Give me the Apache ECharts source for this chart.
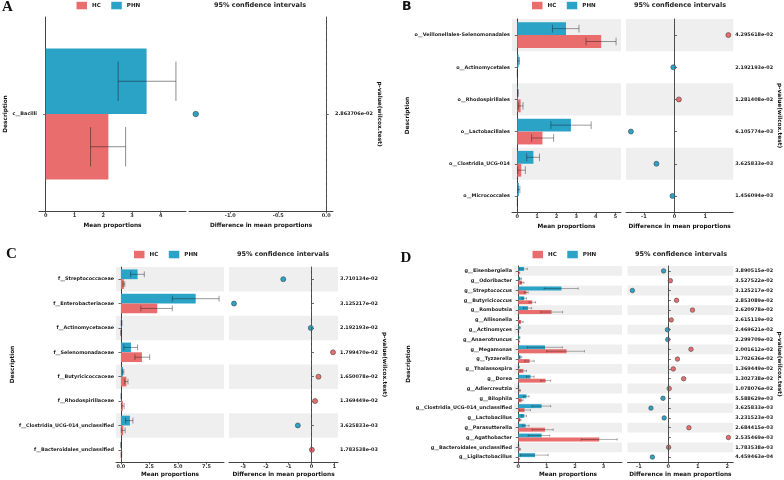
<!DOCTYPE html>
<html><head><meta charset="utf-8">
<script src="https://cdn.jsdelivr.net/npm/echarts@6/dist/echarts.min.js"></script>
<style>html,body{margin:0;padding:0;background:#fff}#c{width:784px;height:480px}</style>
</head><body><div id="c"></div>
<script>
// ---------------- DATA ----------------
// Panel A (class)
const aNames = ['c__Bacilli'];
const aPvals = ['2.863706e-02'];
const aHcMean = [2.18], aHcLow = [1.56], aHcHigh = [2.78];
const aPhnMean = [3.51], aPhnLow = [2.52], aPhnHigh = [4.53];
const aDiff = [-1.36];
const aTicksL = [0, 1, 2, 3, 4];
const aTicksR = [-1.0, -0.5, 0.0];

// Panel B (order)
const bNames = ['o__Veillonellales-Selenomonadales', 'o__Actinomycetales', 'o__Rhodospirillales', 'o__Lactobacillales', 'o__Clostridia_UCG-014', 'o__Micrococcales'];
const bPvals = ['4.295618e-02', '2.192193e-02', '1.281408e-02', '6.105774e-03', '3.625833e-03', '1.456094e-03'];
const bHcMean = [4.27, 0.005, 0.17, 1.28, 0.20, 0.005];
const bHcLow = [3.50, 0.0, 0.05, 0.73, 0.02, 0.0];
const bHcHigh = [5.03, 0.01, 0.29, 1.85, 0.41, 0.01];
const bPhnMean = [2.48, 0.07, 0.03, 2.73, 0.82, 0.08];
const bPhnLow = [1.79, 0.03, 0.01, 1.71, 0.48, 0.03];
const bPhnHigh = [3.14, 0.11, 0.05, 3.76, 1.13, 0.13];
const bDiff = [1.75, -0.04, 0.14, -1.42, -0.59, -0.07];
const bTicksL = [0, 1, 2, 3, 4, 5];
const bTicksR = [-1, 0, 1];

// Panel C (family)
const cNames = ['f__Streptococcaceae', 'f__Enterobacteriaceae', 'f__Actinomycetaceae', 'f__Selenomonadaceae', 'f__Butyricicoccaceae', 'f__Rhodospirillaceae', 'f__Clostridia_UCG-014_unclassified', 'f__Bacteroidales_unclassified'];
const cPvals = ['3.710134e-02', '3.125217e-02', '2.192193e-02', '1.799470e-02', '1.650078e-02', '1.369449e-02', '3.625833e-03', '1.783538e-03'];
const cHcMean = [0.26, 3.18, 0.01, 1.84, 0.48, 0.17, 0.20, 0.04];
const cHcLow = [0.18, 1.75, 0.0, 1.23, 0.33, 0.06, 0.03, 0.01];
const cHcHigh = [0.34, 4.50, 0.02, 2.52, 0.62, 0.28, 0.37, 0.07];
const cPhnMean = [1.46, 6.55, 0.06, 0.88, 0.18, 0.03, 0.79, 0.01];
const cPhnLow = [0.85, 4.50, 0.03, 0.26, 0.12, 0.01, 0.41, 0.0];
const cPhnHigh = [2.05, 8.60, 0.09, 1.46, 0.25, 0.05, 1.05, 0.02];
const cDiff = [-1.24, -3.41, -0.03, 0.95, 0.31, 0.16, -0.60, 0.02];
const cTicksL = [0, 2.5, 5, 7.5];
const cTicksR = [-3, -2, -1, 0, 1];

// Panel D (genus)
const dNames = ['g__Eisenbergiella', 'g__Odoribacter', 'g__Streptococcus', 'g__Butyricicoccus', 'g__Romboutsia', 'g__Allisonella', 'g__Actinomyces', 'g__Anaerotruncus', 'g__Megamonas', 'g__Tyzzerella', 'g__Thalassospira', 'g__Dorea', 'g__Adlercreutzia', 'g__Bilophila', 'g__Clostridia_UCG-014_unclassified', 'g__Lactobacillus', 'g__Parasutterella', 'g__Agathobacter', 'g__Bacteroidales_unclassified', 'g__Ligilactobacillus'];
const dPvals = ['3.890515e-02', '3.527522e-02', '3.125217e-02', '2.853089e-02', '2.620978e-02', '2.615119e-02', '2.469621e-02', '2.299709e-02', '2.001612e-02', '1.702636e-02', '1.369449e-02', '1.302738e-02', '1.078076e-02', '5.588629e-03', '3.625833e-03', '3.231523e-03', '2.684415e-03', '2.535469e-03', '1.783538e-03', '4.459463e-04'];
const dHcMean = [0.03, 0.14, 0.29, 0.49, 1.17, 0.10, 0.01, 0.03, 1.70, 0.40, 0.18, 0.96, 0.05, 0.12, 0.22, 0.07, 0.94, 2.85, 0.05, 0.03];
const dHcLow = [0.01, 0.08, 0.21, 0.38, 0.79, 0.04, 0.0, 0.01, 1.00, 0.23, 0.06, 0.79, 0.01, 0.05, 0.04, 0.04, 0.49, 2.22, 0.02, 0.01];
const dHcHigh = [0.05, 0.20, 0.35, 0.61, 1.56, 0.17, 0.02, 0.05, 2.33, 0.56, 0.29, 1.14, 0.08, 0.17, 0.43, 0.10, 1.23, 3.48, 0.08, 0.05];
const dPhnMean = [0.20, 0.07, 1.52, 0.21, 0.34, 0.01, 0.05, 0.04, 0.94, 0.08, 0.02, 0.43, 0.01, 0.29, 0.82, 0.21, 0.26, 0.82, 0.01, 0.59];
const dPhnLow = [0.04, 0.04, 0.91, 0.13, 0.18, 0.0, 0.02, 0.02, 0.32, 0.04, 0.0, 0.29, 0.0, 0.18, 0.49, 0.11, 0.14, 0.35, 0.0, 0.08];
const dPhnHigh = [0.32, 0.11, 2.11, 0.29, 0.47, 0.02, 0.08, 0.06, 1.55, 0.12, 0.04, 0.56, 0.02, 0.38, 1.14, 0.29, 0.38, 1.11, 0.02, 1.05];
const dDiff = [-0.16, 0.07, -1.22, 0.28, 0.82, 0.10, -0.03, -0.02, 0.77, 0.31, 0.17, 0.52, 0.03, -0.18, -0.59, -0.14, 0.70, 2.04, 0.01, -0.54];
const dTicksL = [0, 1, 2, 3];
const dTicksR = [-1, 0, 1, 2];

const groups = ['HC', 'PHN'];
const ciTitle = '95% confidence intervals';

// ---------------- STYLE ----------------
const FONT = 'DejaVu Sans';
const HC_COLOR = '#E96D6D';
const PHN_COLOR = '#2AA3C7';
const AX = '#444';
const BAND = '#EFEFEF';

const grids = [], xAxes = [], yAxes = [], series = [], titles = [], legends = [];

function fmt(dec) { return v => dec ? Number(v).toFixed(dec) : String(Math.round(v * 100) / 100); }

function addPanel(p) {
  const gL = grids.length, gR = gL + 1;
  const h = p.bottom - p.top;
  grids.push({ left: p.L[0], top: p.top, width: p.L[1] - p.L[0], height: h });
  grids.push({ left: p.R[0], top: p.top, width: p.R[1] - p.R[0], height: h });
  const xL = xAxes.length, xR = xL + 1, yL = yAxes.length, yR = yL + 1;
  const axisLine = { show: true, lineStyle: { color: AX, width: 1 } };
  const tick = { show: true, length: 2.5, lineStyle: { color: AX, width: 0.8 } };
  const tickLbl = { fontFamily: FONT, fontWeight: 'bold', fontSize: 5, color: '#333', margin: 2.5 };
  const nameStyle = { fontFamily: FONT, fontWeight: 'bold', fontSize: 5.8, color: '#111' };
  xAxes.push({ type: 'value', gridIndex: gL, min: p.xL[0], max: p.xL[1],
    axisLine, splitLine: { show: false },
    axisTick: Object.assign({ customValues: p.ticksL }, tick),
    axisLabel: Object.assign({ customValues: p.ticksL, formatter: fmt(p.decL) }, tickLbl),
    name: 'Mean proportions', nameLocation: 'middle', nameGap: p.xNameGap, nameTextStyle: nameStyle });
  xAxes.push({ type: 'value', gridIndex: gR, min: p.xR[0], max: p.xR[1],
    axisLine, splitLine: { show: false },
    axisTick: Object.assign({ customValues: p.ticksR }, tick),
    axisLabel: Object.assign({ customValues: p.ticksR, formatter: fmt(p.decR) }, tickLbl),
    name: 'Difference in mean proportions', nameLocation: 'middle', nameGap: p.xNameGap, nameTextStyle: nameStyle });
  yAxes.push({ type: 'category', gridIndex: gL, inverse: true, data: p.names,
    axisLine, axisTick: Object.assign({ alignWithLabel: true }, tick),
    axisLabel: Object.assign({}, tickLbl, { fontSize: 4.9, color: '#1a1a1a', margin: 2 }),
    name: 'Description', nameLocation: 'middle', nameRotate: 90, nameGap: p.yNameGapL, nameTextStyle: nameStyle });
  yAxes.push({ type: 'category', gridIndex: gR, inverse: true, position: 'right', data: p.pvals,
    axisLine, axisTick: Object.assign({ alignWithLabel: true }, tick),
    axisLabel: Object.assign({}, tickLbl, { fontSize: 4.9, color: '#1a1a1a', margin: 2 }),
    name: 'p-value(wilcox.test)', nameLocation: 'middle', nameRotate: -90, nameGap: p.yNameGapR, nameTextStyle: nameStyle });

  const n = p.names.length;
  const bandData = [];
  for (let i = 0; i < n; i++) if ((n - i) % 2 === 0) bandData.push([0, i]);
  const bandRender = (params, api) => {
    const c = api.coord([0, api.value(1)]);
    const bh = api.size([0, 1])[1];
    const cs = params.coordSys;
    return { type: 'rect', shape: { x: cs.x, y: c[1] - bh / 2, width: cs.width, height: bh }, style: { fill: BAND } };
  };
  [[xL, yL], [xR, yR]].forEach(([xi, yi]) => {
    series.push({ type: 'custom', xAxisIndex: xi, yAxisIndex: yi, silent: true, z: 0,
      renderItem: bandRender, encode: { x: 0, y: 1 }, data: bandData });
  });

  // bars
  series.push({ type: 'bar', name: 'PHN', xAxisIndex: xL, yAxisIndex: yL, data: p.phnMean,
    barGap: '0%', barCategoryGap: p.gap, itemStyle: { color: PHN_COLOR }, z: 2, silent: true });
  series.push({ type: 'bar', name: 'HC', xAxisIndex: xL, yAxisIndex: yL, data: p.hcMean,
    barGap: '0%', barCategoryGap: p.gap, itemStyle: { color: HC_COLOR }, z: 2, silent: true });

  // error bars
  const gapFrac = parseFloat(p.gap) / 100;
  const errData = [];
  for (let i = 0; i < n; i++) {
    errData.push([p.phnLow[i], p.phnHigh[i], i, -1]);
    errData.push([p.hcLow[i], p.hcHigh[i], i, 1]);
  }
  series.push({ type: 'custom', xAxisIndex: xL, yAxisIndex: yL, silent: true, z: 3,
    encode: { x: [0, 1], y: 2 }, data: errData,
    renderItem: (params, api) => {
      const lo = api.coord([api.value(0), api.value(2)]);
      const hi = api.coord([api.value(1), api.value(2)]);
      const bh = api.size([0, 1])[1];
      const barH = bh * (1 - gapFrac) / 2;
      const yc = lo[1] + api.value(3) * barH / 2;
      const cap = barH * 0.3;
      const st = { stroke: 'rgba(30,30,30,0.5)', lineWidth: p.errW };
      return { type: 'group', children: [
        { type: 'line', shape: { x1: lo[0], y1: yc, x2: hi[0], y2: yc }, style: st },
        { type: 'line', shape: { x1: lo[0], y1: yc - cap, x2: lo[0], y2: yc + cap }, style: st },
        { type: 'line', shape: { x1: hi[0], y1: yc - cap, x2: hi[0], y2: yc + cap }, style: st }
      ] };
    } });

  // difference points
  series.push({ type: 'scatter', name: 'diff', xAxisIndex: xR, yAxisIndex: yR, z: 4, silent: true,
    symbolSize: p.dot,
    data: p.diff.map((d, i) => ({ value: [d, i], itemStyle: { color: d > 0 ? HC_COLOR : PHN_COLOR, opacity: 1, borderColor: '#444', borderWidth: 0.6 } })),
    markLine: { silent: true, symbol: 'none', label: { show: false },
      lineStyle: { type: p.dash, color: '#555', width: 1 }, data: [{ xAxis: 0 }] } });

  titles.push({ text: ciTitle, left: p.ciX, top: p.ciY, textAlign: 'center', padding: 0,
    textStyle: { fontFamily: FONT, fontWeight: 'bold', fontSize: 6.5, color: '#222' } });
  titles.push({ text: p.letter, left: p.letX, top: p.letY, padding: 0,
    textStyle: { fontFamily: p.letFont, fontWeight: 'bold', fontSize: p.letSize, color: '#111' } });
  legends.push({ left: p.legX, top: p.legY, padding: 0, data: groups, icon: 'rect', itemWidth: 10.5, itemHeight: 7.5,
    itemGap: 10.5, selectedMode: false,
    textStyle: { fontFamily: FONT, fontWeight: 'bold', fontSize: 5.6, color: '#222' } });
}

addPanel({ letter: 'A', letX: 2, letY: 0, letFont: 'Liberation Serif', letSize: 15,
  names: aNames, pvals: aPvals, hcMean: aHcMean, hcLow: aHcLow, hcHigh: aHcHigh,
  phnMean: aPhnMean, phnLow: aPhnLow, phnHigh: aPhnHigh, diff: aDiff,
  ticksL: aTicksL, ticksR: aTicksR, decL: 0, decR: 1,
  L: [39, 186], R: [189, 333], top: 17, bottom: 211, xL: [-0.233, 4.88], xR: [-1.43, 0.07],
  gap: '32.5%', errW: 1, dot: 5.5, dash: 'dashed',
  xNameGap: 11, yNameGapL: 29, yNameGapR: 39, ciX: 260, ciY: 1.5, legX: 76.5, legY: 1.8 });

addPanel({ letter: 'B', letX: 402, letY: 0, letFont: 'DejaVu Sans', letSize: 12.5,
  names: bNames, pvals: bPvals, hcMean: bHcMean, hcLow: bHcLow, hcHigh: bHcHigh,
  phnMean: bPhnMean, phnLow: bPhnLow, phnHigh: bPhnHigh, diff: bDiff,
  ticksL: bTicksL, ticksR: bTicksR, decL: 0, decR: 0,
  L: [512, 621], R: [626, 734], top: 19, bottom: 212, xL: [-0.27, 5.28], xR: [-1.58, 1.91],
  gap: '20%', errW: 0.9, dot: 5, dash: 'dotted',
  xNameGap: 11, yNameGapL: 100, yNameGapR: 41, ciX: 680, ciY: 1.5, legX: 532, legY: 1.8 });

addPanel({ letter: 'C', letX: 6, letY: 247, letFont: 'Liberation Serif', letSize: 15,
  names: cNames, pvals: cPvals, hcMean: cHcMean, hcLow: cHcLow, hcHigh: cHcHigh,
  phnMean: cPhnMean, phnLow: cPhnLow, phnHigh: cPhnHigh, diff: cDiff,
  ticksL: cTicksL, ticksR: cTicksR, decL: 1, decR: 0,
  L: [116, 224], R: [229, 338], top: 267, bottom: 462, xL: [-0.43, 9.03], xR: [-3.63, 1.17],
  gap: '20%', errW: 0.9, dot: 5, dash: 'dashed',
  xNameGap: 9, yNameGapL: 101, yNameGapR: 40, ciX: 283, ciY: 250.5, legX: 134, legY: 250.8 });

addPanel({ letter: 'D', letX: 400.5, letY: 251, letFont: 'Liberation Serif', letSize: 15,
  names: dNames, pvals: dPvals, hcMean: dHcMean, hcLow: dHcLow, hcHigh: dHcHigh,
  phnMean: dPhnMean, phnLow: dPhnLow, phnHigh: dPhnHigh, diff: dDiff,
  ticksL: dTicksL, ticksR: dTicksR, decL: 0, decR: 0,
  L: [514, 622], R: [627.5, 736], top: 266, bottom: 462, xL: [-0.15, 3.65], xR: [-1.385, 2.205],
  gap: '20%', errW: 0.7, dot: 4.5, dash: 'dashed',
  xNameGap: 9, yNameGapL: 102, yNameGapR: 41, ciX: 681, ciY: 250.5, legX: 532.5, legY: 250.8 });

const chart = echarts.init(document.getElementById('c'), null, { renderer: 'canvas' });
chart.setOption({
  animation: false,
  backgroundColor: '#fff',
  title: titles, legend: legends, grid: grids, xAxis: xAxes, yAxis: yAxes, series: series
});
</script></body></html>
